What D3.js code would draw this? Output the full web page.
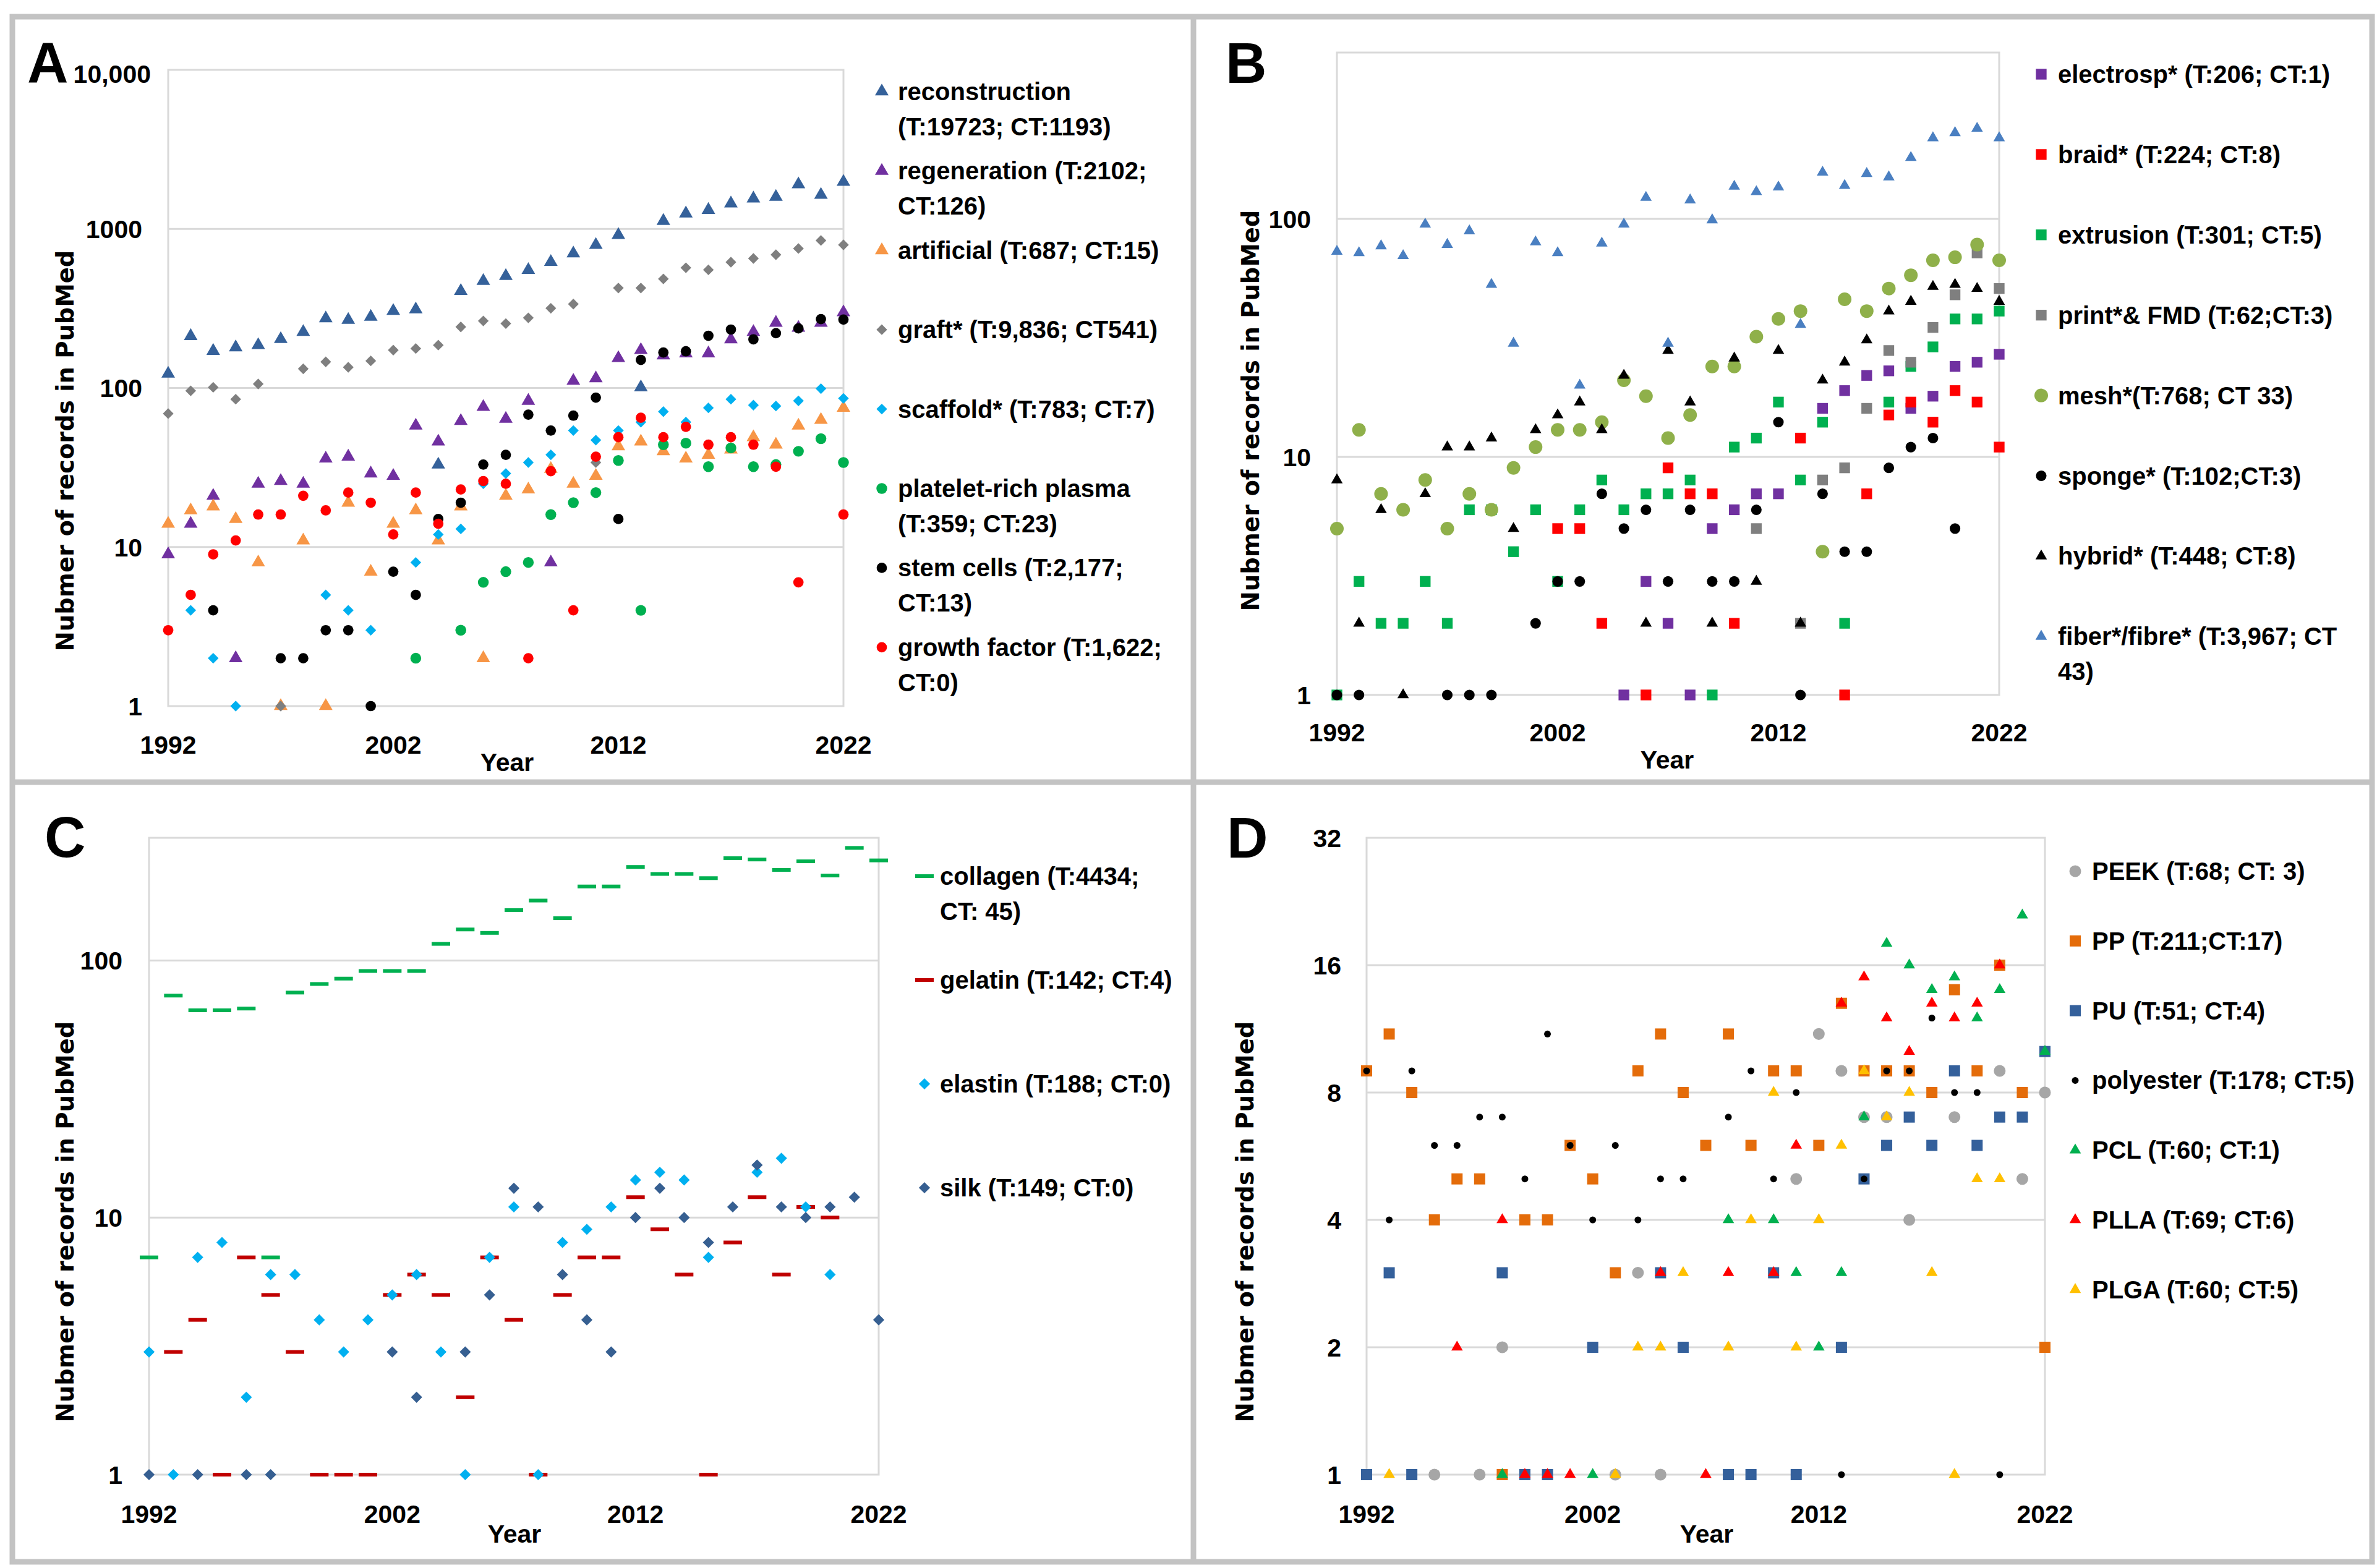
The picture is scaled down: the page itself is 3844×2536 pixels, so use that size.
<!DOCTYPE html>
<html>
<head>
<meta charset="utf-8">
<script src="https://cdn.jsdelivr.net/npm/d3@7"></script>
<style>
  body { margin: 0; background: #fff; }
  svg text { font-family: "Liberation Sans", Arial, sans-serif; font-weight: bold; fill: #000; }
  svg text.ytitle { font-family: "DejaVu Sans", Verdana, sans-serif; }
</style>
</head>
<body>
<svg id="chart" width="3844" height="2536"></svg>
<script>
const years = d3.range(1992, 2023);
const xTickYears = [1992, 2002, 2012, 2022];

// ---- panel A : terms (log10, 1..10,000)
const reconstruction = [123,212,171,180,186,203,225,274,268,280,305,312,33,407,471,506,552,620,701,793,916,101,1123,1250,1316,1446,1553,1590,1906,1636,1975];
const regeneration = [9,14,21,2,25,26,25,36,37,29,28,58,46,62,76,64,83,8,111,115,154,173,160,165,165,202,225,257,239,257,299];
const artificial = [14,17,18,15,8,1,11,1,19,7,14,17,11,18,2,21,23,31,25,28,43,46,40,36,38,41,49,44,58,63,75];
const graft = [69,96,101,85,106,1,132,146,135,148,173,177,186,242,264,254,276,317,337,34,425,425,485,570,553,618,652,688,753,846,794];
const scaffold = [null,4,2,1,null,null,null,5,4,3,null,8,12,13,25,29,34,38,54,47,54,61,71,61,75,85,78,77,83,99,86];
const platelet = [null,null,null,null,null,null,null,null,null,null,null,2,null,3,6,7,8,16,19,22,35,4,44,45,32,42,32,33,40,48,34];
const stemCells = [null,null,4,null,null,2,2,3,3,1,7,5,15,19,33,38,68,54,67,87,15,150,167,170,213,233,202,221,237,271,269];
const growthFactor = [3,5,9,11,16,16,21,17,22,19,12,22,14,23,26,25,2,30,4,37,49,65,49,57,44,49,44,32,6,null,16];
const yTicksA = [1, 10, 100, 1000, 10000];

// ---- panel B : fabrication (log10, 1..500)
const electrosp = [null,null,null,null,null,null,null,null,null,null,null,null,null,1,3,2,1,5,6,7,7,null,16,19,22,23,16,18,24,25,27];
const braid = [null,null,null,null,null,null,null,null,null,null,5,5,2,null,1,9,7,7,2,null,null,12,null,1,7,15,17,14,19,17,11];
const extrusion = [1,3,2,2,3,2,6,6,4,6,3,6,8,6,7,7,8,1,11,12,17,8,14,2,null,17,24,29,38,38,41];
const printFmd = [null,null,null,null,null,null,null,null,null,null,null,null,null,null,null,null,null,null,null,5,null,2,8,9,16,28,25,35,48,72,51];
const mesh = [5,13,7,6,8,5,7,6,9,11,13,13,14,21,18,12,15,24,24,32,38,41,4,46,41,51,58,67,69,78,67];
const sponge = [1,1,null,null,null,1,1,1,null,2,3,3,7,5,6,3,6,3,3,6,14,1,7,4,4,9,11,12,5,null,null];
const hybrid = [8,2,6,1,7,11,11,12,5,13,15,17,13,22,2,28,17,2,26,3,28,2,21,25,31,41,45,52,53,51,45];
const fiber = [73,72,77,70,95,78,89,53,30,80,72,20,79,95,123,30,120,99,137,130,136,36,157,138,155,150,181,219,230,240,219];
const yTicksB = [1, 10, 100];

// ---- panel C : proteins (log10, 1..300)
const collagen = [7,73,64,64,65,7,75,81,85,91,91,91,116,132,128,157,171,146,194,194,231,217,217,209,250,247,225,243,214,274,245];
const gelatin = [null,3,4,1,7,5,3,1,1,1,5,6,5,2,7,4,1,5,7,7,12,9,6,1,8,12,6,11,10,null,null];
const elastin = [3,1,7,8,2,6,6,4,3,4,5,6,3,1,7,11,1,8,9,11,14,15,14,7,null,15,17,11,6,null,null];
const silk = [1,null,1,null,1,1,null,null,null,null,3,2,null,3,5,13,11,6,4,3,10,13,10,8,11,16,11,10,11,12,4];
const yTicksC = [1, 10, 100];

// ---- panel D : polymers (log2, 1..32)
const peek = [null,null,null,1,null,1,2,null,null,null,null,1,3,1,null,null,null,null,null,5,11,9,7,7,4,null,7,null,9,5,8];
const pp = [9,11,8,4,5,5,1,4,4,6,5,3,9,11,8,6,11,6,9,9,6,13,9,9,9,8,14,9,16,8,2];
const pu = [1,3,1,null,null,null,3,1,1,null,2,null,null,3,2,null,1,1,3,1,null,2,5,6,7,6,9,6,7,7,10];
const polyester = [9,4,9,6,6,7,7,5,11,6,4,6,4,5,5,null,7,9,5,8,null,1,5,9,9,12,8,8,1,null,null];
const pcl = [null,null,null,null,null,null,1,null,null,null,1,null,null,null,null,null,4,null,4,3,2,3,7,18,16,14,15,12,14,21,10];
const plla = [null,null,null,null,2,null,4,1,1,1,null,null,null,3,null,1,3,null,3,6,null,13,15,12,10,13,12,13,16,null,null];
const plga = [null,1,null,null,null,null,null,null,null,null,null,1,2,2,3,null,2,4,8,2,4,6,9,7,8,3,1,5,5,null,null];
const yTicksD = [1, 2, 4, 8, 16, 32];

const panels = [
  {
    letter: "A", letterPos: [44, 133],
    box: { x0: 272, x1: 1364, y0: 113, y1: 1142 }, base: 10, top: 10000, yTicks: yTicksA,
    yLabelX: 230, xLabelY: 1219, yearPos: [820, 1247], titlePos: [105, 729],
    legend: { mx: 1426, tx: 1452, y0: 162, pitch: 128.4 },
    series: [
      { lines: ["reconstruction", "(T:19723; CT:1193)"], values: reconstruction, shape: "triangle", size: 210, color: "#35619a" },
      { lines: ["regeneration (T:2102;", "CT:126)"], values: regeneration, shape: "triangle", size: 210, color: "#7030a0" },
      { lines: ["artificial (T:687; CT:15)"], values: artificial, shape: "triangle", size: 210, color: "#f79646" },
      { lines: ["graft* (T:9,836; CT541)"], values: graft, shape: "diamond", size: 150, color: "#7f7f7f" },
      { lines: ["scaffold* (T:783; CT:7)"], values: scaffold, shape: "diamond", size: 150, color: "#00b0f0" },
      { lines: ["platelet-rich plasma", "(T:359; CT:23)"], values: platelet, shape: "circle", size: 240, color: "#00b050" },
      { lines: ["stem cells (T:2,177;", "CT:13)"], values: stemCells, shape: "circle", size: 220, color: "#000000" },
      { lines: ["growth factor (T:1,622;", "CT:0)"], values: growthFactor, shape: "circle", size: 220, color: "#ff0000" }
    ]
  },
  {
    letter: "B", letterPos: [1982, 134],
    box: { x0: 2162, x1: 3233, y0: 85, y1: 1124 }, base: 10, top: 500, yTicks: yTicksB,
    yLabelX: 2120, xLabelY: 1199, yearPos: [2696, 1243], titlePos: [2022, 664],
    legend: { mx: 3301, tx: 3328, y0: 134, pitch: 129.9 },
    series: [
      { lines: ["electrosp* (T:206; CT:1)"], values: electrosp, shape: "square", size: 300, color: "#7030a0" },
      { lines: ["braid* (T:224; CT:8)"], values: braid, shape: "square", size: 300, color: "#ff0000" },
      { lines: ["extrusion (T:301; CT:5)"], values: extrusion, shape: "square", size: 300, color: "#00b050" },
      { lines: ["print*& FMD (T:62;CT:3)"], values: printFmd, shape: "square", size: 300, color: "#7f7f7f" },
      { lines: ["mesh*(T:768; CT 33)"], values: mesh, shape: "circle", size: 380, color: "#8fb04a" },
      { lines: ["sponge* (T:102;CT:3)"], values: sponge, shape: "circle", size: 230, color: "#000000" },
      { lines: ["hybrid* (T:448; CT:8)"], values: hybrid, shape: "triangle", size: 150, color: "#000000" },
      { lines: ["fiber*/fibre* (T:3,967; CT", "43)"], values: fiber, shape: "triangle", size: 150, color: "#4a7fc1" }
    ]
  },
  {
    letter: "C", letterPos: [72, 1386],
    box: { x0: 241, x1: 1421, y0: 1355, y1: 2385 }, base: 10, top: 300, yTicks: yTicksC,
    yLabelX: 198, xLabelY: 2463, yearPos: [832, 2495], titlePos: [105, 1976],
    legend: { mx: 1495, tx: 1520, y0: 1431, pitch: 168 },
    series: [
      { lines: ["collagen (T:4434;", "CT: 45)"], values: collagen, shape: "dash", size: 0, color: "#00b050" },
      { lines: ["gelatin (T:142; CT:4)"], values: gelatin, shape: "dash", size: 0, color: "#c00000" },
      { lines: ["elastin (T:188; CT:0)"], values: elastin, shape: "diamond", size: 165, color: "#00b0f0" },
      { lines: ["silk  (T:149; CT:0)"], values: silk, shape: "diamond", size: 165, color: "#365f91" }
    ]
  },
  {
    letter: "D", letterPos: [1984, 1387],
    box: { x0: 2210, x1: 3307, y0: 1355, y1: 2385 }, base: 2, top: 32, yTicks: yTicksD,
    yLabelX: 2169, xLabelY: 2463, yearPos: [2760, 2495], titlePos: [2013, 1976],
    legend: { mx: 3356, tx: 3383, y0: 1423, pitch: 112.8 },
    series: [
      { lines: ["PEEK (T:68; CT: 3)"], values: peek, shape: "circle", size: 285, color: "#a6a6a6" },
      { lines: ["PP (T:211;CT:17)"], values: pp, shape: "square", size: 324, color: "#e46c0a" },
      { lines: ["PU (T:51; CT:4)"], values: pu, shape: "square", size: 324, color: "#34609b" },
      { lines: ["polyester (T:178; CT:5)"], values: polyester, shape: "circle", size: 95, color: "#000000" },
      { lines: ["PCL (T:60; CT:1)"], values: pcl, shape: "triangle", size: 150, color: "#00b050" },
      { lines: ["PLLA (T:69; CT:6)"], values: plla, shape: "triangle", size: 150, color: "#ff0000" },
      { lines: ["PLGA (T:60; CT:5)"], values: plga, shape: "triangle", size: 150, color: "#ffc000" }
    ]
  }
];

const svg = d3.select("#chart");
svg.append("rect").attr("width", 3844).attr("height", 2536).attr("fill", "#fff");

// grey frame around and between the four panels
const frame = svg.append("g").attr("stroke", "#c3c3c3").attr("stroke-width", 9).attr("fill", "none");
frame.append("rect").attr("x", 20).attr("y", 27).attr("width", 3816).attr("height", 2499);
frame.append("line").attr("x1", 1930).attr("x2", 1930).attr("y1", 27).attr("y2", 2526);
frame.append("line").attr("x1", 20).attr("x2", 3836).attr("y1", 1265).attr("y2", 1265);

const symbols = { triangle: d3.symbolTriangle, circle: d3.symbolCircle, square: d3.symbolSquare, diamond: d3.symbolSquare };

function drawMarker(g, s) {
  if (s.shape === "dash") {
    return g.append("rect").attr("x", -15).attr("y", -3).attr("width", 30).attr("height", 6).attr("fill", s.color);
  }
  const p = g.append("path")
    .attr("d", d3.symbol().type(symbols[s.shape]).size(s.size)())
    .attr("fill", s.color);
  if (s.shape === "diamond") p.attr("transform", "rotate(45)");
  return p;
}

panels.forEach(pn => {
  const b = pn.box;
  const x = d3.scaleLinear().domain([1992, 2022]).range([b.x0, b.x1]);
  const y = d3.scaleLog().base(pn.base).domain([1, pn.top]).range([b.y1, b.y0]);
  const g = svg.append("g");

  // gridlines + plot border
  g.append("g").selectAll("line")
    .data(pn.yTicks.filter(t => t > 1 && t < pn.top))
    .join("line")
    .attr("x1", b.x0).attr("x2", b.x1)
    .attr("y1", d => y(d)).attr("y2", d => y(d))
    .attr("stroke", "#d9d9d9").attr("stroke-width", 3);
  g.append("rect")
    .attr("x", b.x0).attr("y", b.y0)
    .attr("width", b.x1 - b.x0).attr("height", b.y1 - b.y0)
    .attr("fill", "none").attr("stroke", "#d9d9d9").attr("stroke-width", 3);

  // y tick labels
  g.append("g").selectAll("text")
    .data(pn.yTicks)
    .join("text")
    .attr("x", d => d === 10000 ? pn.yLabelX + 14 : pn.yLabelX)
    .attr("y", d => y(d) + (d === 10000 ? 6 : 0))
    .attr("dy", "0.36em")
    .attr("text-anchor", "end")
    .attr("font-size", 41)
    .text(d => d === 10000 ? "10,000" : d);

  // x tick labels
  g.append("g").selectAll("text")
    .data(xTickYears)
    .join("text")
    .attr("x", d => x(d)).attr("y", pn.xLabelY)
    .attr("text-anchor", "middle")
    .attr("font-size", 41)
    .text(d => d);

  g.append("text")
    .attr("x", pn.yearPos[0]).attr("y", pn.yearPos[1])
    .attr("text-anchor", "middle").attr("font-size", 41)
    .text("Year");

  g.append("text")
    .attr("class", "ytitle")
    .attr("transform", `translate(${pn.titlePos[0]},${pn.titlePos[1]}) rotate(-90)`)
    .attr("text-anchor", "middle").attr("dominant-baseline", "central")
    .attr("font-size", 38.5)
    .text("Nubmer of records in PubMed");

  g.append("text")
    .attr("x", pn.letterPos[0]).attr("y", pn.letterPos[1])
    .attr("font-size", 92)
    .text(pn.letter);

  // series, in legend order so later ones sit on top
  pn.series.forEach(s => {
    const pts = years.map((yr, i) => ({ yr, v: s.values[i] })).filter(d => d.v != null);
    const sg = g.append("g");
    pts.forEach(d => {
      const m = sg.append("g").attr("transform", `translate(${x(d.yr)},${y(d.v)})`);
      drawMarker(m, s);
    });
  });

  // legend
  const lg = g.append("g");
  pn.series.forEach((s, i) => {
    const by = pn.legend.y0 + i * pn.legend.pitch;
    const m = lg.append("g").attr("transform", `translate(${pn.legend.mx},${by - 14})`);
    drawMarker(m, s);
    const t = lg.append("text").attr("x", pn.legend.tx).attr("y", by).attr("font-size", 40);
    s.lines.forEach((ln, k) => {
      t.append("tspan").attr("x", pn.legend.tx).attr("y", by + k * 57).text(ln);
    });
  });
});
</script>
</body>
</html>
